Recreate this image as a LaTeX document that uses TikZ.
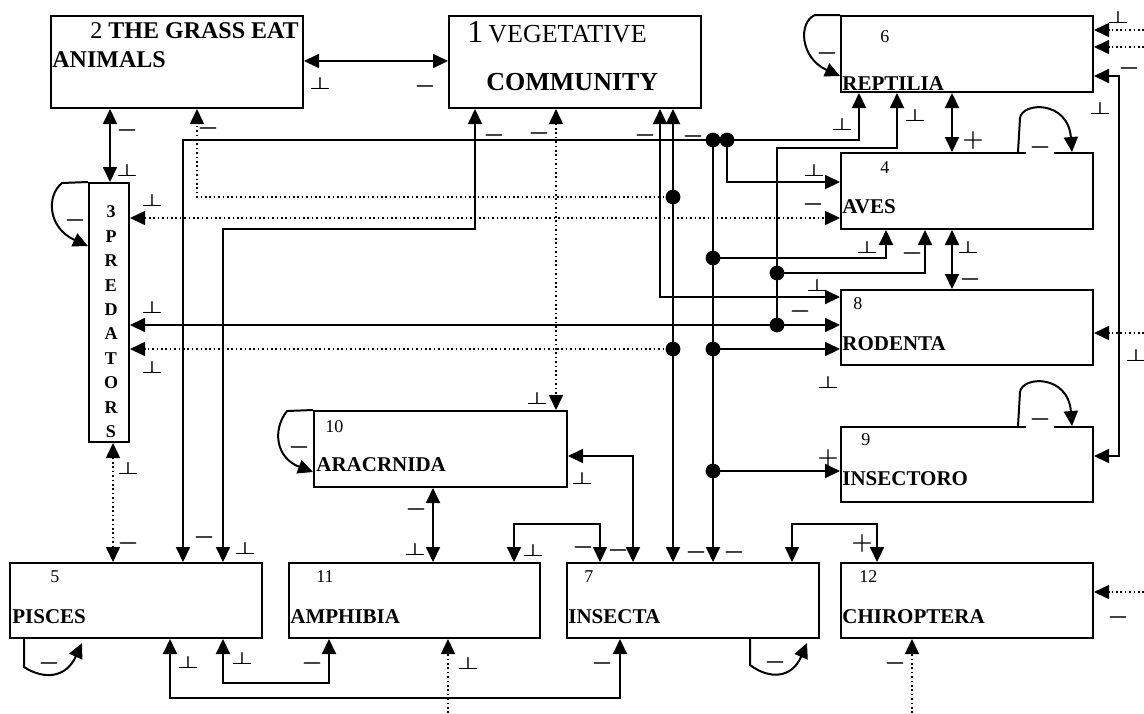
\documentclass[tikz,border=0pt]{standalone}
\usepackage{fontspec}
\setmainfont{Liberation Serif}
\usetikzlibrary{arrows.meta}

\newcommand{\upt}{\scalebox{1}[0.72]{$\perp$}}

\tikzset{
  box/.style={draw, line width=1pt, anchor=north west, inner sep=0pt,
    minimum width=126pt, minimum height=37.5pt},
  lnk/.style={line width=1pt},
  dotline/.style={line width=0.8pt, dash pattern=on 0.8pt off 1.4pt},
  num/.style={anchor=base west, inner sep=0pt, font=\fontsize{9}{9}\selectfont},
  nam/.style={anchor=base west, inner sep=0pt, font=\fontsize{10.5}{10.5}\selectfont\bfseries},
  let/.style={inner sep=0pt, font=\fontsize{9}{9}\selectfont\bfseries},
  sg/.style={inner sep=0pt, font=\fontsize{12}{12}\selectfont\boldmath},
  >={Triangle[length=7.5pt,width=7pt]}
}

\begin{document}
\begin{tikzpicture}[x=0.5pt,y=-0.5pt]
    \useasboundingbox (0,0) rectangle (1144,713);
    \node[box, minimum height=46pt] (b2) at (50,15) {};
    \node[box, minimum height=46pt] (b1) at (448,15) {};
    \node[box, minimum height=38pt] (b6) at (840,15) {};
    \node[box, minimum height=38pt] (b4) at (840,152) {};
    \node[box] (b8) at (840,289) {};
    \node[box] (b9) at (840,426) {};
    \node[box, minimum width=20pt, minimum height=129.5pt] (b3) at (88,182) {};
    \node[box, minimum width=126.5pt, minimum height=38pt] (b10) at (313,410) {};
    \node[box] (b5) at (9,562) {};
    \node[box, minimum width=125.5pt] (b11) at (288,562) {};
    \node[box] (b7) at (566,562) {};
    \node[box] (b12) at (840,562) {};

    \node[anchor=base west, inner sep=0pt, font=\fontsize{12}{12}\selectfont] (t2a) at (90,38) {2 \textbf{THE GRASS EAT}};
    \node[anchor=base west, inner sep=0pt, font=\fontsize{12}{12}\selectfont\bfseries] (t2b) at (52,67) {ANIMALS};
    \node[anchor=base west, inner sep=0pt] (t1a) at (467,42) {{\fontsize{16}{16}\selectfont 1} {\fontsize{13}{13}\selectfont VEGETATIVE}};
    \node[anchor=base west, inner sep=0pt, font=\fontsize{13}{13}\selectfont\bfseries] (t1b) at (486,90) {COMMUNITY};
    \node[num] (t6a) at (880,42) {6};
    \node[nam] (t6b) at (842,90) {REPTILIA};
    \node[num] (t4a) at (880,173) {4};
    \node[nam] (t4b) at (842,213) {AVES};
    \node[num] (t8a) at (853,309) {8};
    \node[nam] (t8b) at (842,350) {RODENTA};
    \node[num] (t9a) at (861,445) {9};
    \node[nam] (t9b) at (842,485) {INSECTORO};
    \node[num] (t10a) at (325,432) {10};
    \node[nam] (t10b) at (316,471) {ARACRNIDA};
    \node[num] (t5a) at (50,582) {5};
    \node[nam] (t5b) at (12,623) {PISCES};
    \node[num] (t11a) at (316,582) {11};
    \node[nam] (t11b) at (290,623) {AMPHIBIA};
    \node[num] (t7a) at (584,582) {7};
    \node[nam] (t7b) at (568,623) {INSECTA};
    \node[num] (t12a) at (859,582) {12};
    \node[nam] (t12b) at (842,623) {CHIROPTERA};

    \node[let] (p0) at (111,212) {3};
    \node[let] (p1) at (111,236.4) {P};
    \node[let] (p2) at (111,260.8) {R};
    \node[let] (p3) at (111,285.2) {E};
    \node[let] (p4) at (111,309.6) {D};
    \node[let] (p5) at (111,334) {A};
    \node[let] (p6) at (111,358.4) {T};
    \node[let] (p7) at (111,382.8) {O};
    \node[let] (p8) at (111,407.2) {R};
    \node[let] (p9) at (111,431.6) {S};

    \coordinate (j1) at (673,197);
    \coordinate (j2) at (713,140);
    \coordinate (j3) at (727,140);
    \coordinate (j4) at (713,258);
    \coordinate (j5) at (713,349);
    \coordinate (j6) at (713,471);
    \coordinate (j7) at (777,325);
    \coordinate (j8) at (777,273);
    \coordinate (j9) at (673,349);
    \coordinate (e1) at (1144,30);
    \coordinate (e2) at (1144,47);
    \coordinate (e3) at (1144,333);
    \coordinate (e4) at (1144,592);
    \coordinate (e5) at (448,713);
    \coordinate (e6) at (912,713);

    \draw[lnk,<->] (b2.east |- 0,61) -- (b1.west |- 0,61);
    \draw[lnk,<->] (110,0 |- b2.south) -- (110,0 |- b3.north);
    \draw[dotline,->] (j1) -| (197,0 |- b2.south);
    \draw[dotline,<->] (b3.east |- 0,218) -- (b4.west |- 0,218);
    \draw[lnk,<->] (183,0 |- b5.north) |- (859,140) -- (859,0 |- b6.south);
    \draw[lnk,<->] (475,0 |- b1.south) |- (223,229) -- (223,0 |- b5.north);
    \draw[dotline,<->] (556,0 |- b1.south) -- (556,0 |- b10.north);
    \draw[lnk,<->] (660,0 |- b1.south) |- (b8.west |- 0,297);
    \draw[lnk,<->] (673,0 |- b1.south) -- (673,0 |- b7.north);
    \draw[lnk,->] (j2) -- (713,0 |- b7.north);
    \draw[lnk,->] (j3) |- (b4.west |- 0,182);
    \draw[lnk,->] (j4) -| (886,0 |- b4.south);
    \draw[lnk,->] (j5) -- (b8.west |- j5);
    \draw[lnk,->] (j6) -- (b9.west |- j6);
    \draw[lnk,->] (j7) |- (897,148) -- (897,0 |- b6.south);
    \draw[lnk,->] (j8) -| (925,0 |- b4.south);
    \draw[lnk,<->] (b3.east |- j7) -- (b8.west |- j7);
    \draw[dotline,->] (j9) -- (b3.east |- j9);
    \draw[lnk,<->] (952,0 |- b6.south) -- (952,0 |- b4.north);
    \draw[lnk,<->] (952,0 |- b4.south) -- (952,0 |- b8.north);
    \draw[lnk,<->] (b6.east |- 0,76) -| (1119,456) -- (b9.east |- 0,456);
    \draw[dotline,->] (e1) -- (b6.east |- e1);
    \draw[dotline,->] (e2) -- (b6.east |- e2);
    \draw[dotline,->] (e3) -- (b8.east |- e3);
    \draw[dotline,->] (e4) -- (b12.east |- e4);
    \draw[dotline,<->] (113,0 |- b3.south) -- (113,0 |- b5.north);
    \draw[lnk,<->] (b10.east |- 0,456) -| (633,0 |- b7.north);
    \draw[lnk,<->] (433,0 |- b10.south) -- (433,0 |- b11.north);
    \draw[lnk,<->] (514,0 |- b11.north) |- (600,524) -- (600,0 |- b7.north);
    \draw[lnk,<->] (792,0 |- b7.north) |- (877,524) -- (877,0 |- b12.north);
    \draw[lnk,<->] (170,0 |- b5.south) |- (620,698) -- (620,0 |- b7.south);
    \draw[lnk,<->] (223,0 |- b5.south) |- (329,683) -- (329,0 |- b11.south);
    \draw[dotline,->] (e5) -- (448,0 |- b11.south);
    \draw[dotline,->] (e6) -- (912,0 |- b12.south);

    \draw[lnk,->] (b6.north west) -- (815,15) .. controls (798,22) and (800,58) .. (b6.west |- 0,76);
    \draw[lnk,->] (1018,0 |- b4.north) -- (1020,118) .. controls (1022,102) and (1068,100) .. (1072,0 |- b4.north);
    \draw[lnk,->] (1018,0 |- b9.north) -- (1020,392) .. controls (1022,376) and (1068,374) .. (1072,0 |- b9.north);
    \draw[lnk,->] (b3.north west) -- (62,183) .. controls (46,196) and (48,228) .. (b3.west |- 0,246);
    \draw[lnk,->] (b10.north west) -- (287,411) .. controls (272,430) and (276,458) .. (b10.west |- 0,472);
    \draw[lnk,->] (24,0 |- b5.south) -- (24,667) .. controls (44,680) and (66,678) .. (82,643);
    \draw[lnk,->] (750,0 |- b7.south) -- (750,665) .. controls (770,680) and (792,678) .. (807,643);

    \fill (j1) circle (3.7pt);
    \fill (j2) circle (3.7pt);
    \fill (j3) circle (3.7pt);
    \fill (j4) circle (3.7pt);
    \fill (j5) circle (3.7pt);
    \fill (j6) circle (3.7pt);
    \fill (j7) circle (3.7pt);
    \fill (j8) circle (3.7pt);
    \fill (j9) circle (3.7pt);

    \draw (320,83) node[sg] (s1) {\upt};
    \draw (425,86) node[sg] (s2) {$-$};
    \draw (127,130) node[sg] (s3) {$-$};
    \draw (127,170) node[sg] (s4) {\upt};
    \draw (208,128) node[sg] (s5) {$-$};
    \draw (152,200) node[sg] (s6) {\upt};
    \draw (75,220) node[sg] (s7) {$-$};
    \draw (152,307) node[sg] (s8) {\upt};
    \draw (152,367) node[sg] (s9) {\upt};
    \draw (128,468) node[sg] (s10) {\upt};
    \draw (128,543) node[sg] (s11) {$-$};
    \draw (204,537) node[sg] (s12) {$-$};
    \draw (245,548) node[sg] (s13) {\upt};
    \draw (49,663) node[sg] (s14) {$-$};
    \draw (188,662) node[sg] (s15) {\upt};
    \draw (242,658) node[sg] (s16) {\upt};
    \draw (312,663) node[sg] (s17) {$-$};
    \draw (299,447) node[sg] (s18) {$-$};
    \draw (494,135) node[sg] (s19) {$-$};
    \draw (539,133) node[sg] (s20) {$-$};
    \draw (645,135) node[sg] (s21) {$-$};
    \draw (693,136) node[sg] (s22) {$-$};
    \draw (537,398) node[sg] (s23) {\upt};
    \draw (582,478) node[sg] (s24) {\upt};
    \draw (416,509) node[sg] (s25) {$-$};
    \draw (415,549) node[sg] (s26) {\upt};
    \draw (533,550) node[sg] (s27) {\upt};
    \draw (583,547) node[sg] (s28) {$-$};
    \draw (618,550) node[sg] (s29) {$-$};
    \draw (696,552) node[sg] (s30) {$-$};
    \draw (734,552) node[sg] (s31) {$-$};
    \draw (862,543) node[sg] (s32) {$+$};
    \draw (775,662) node[sg] (s33) {$-$};
    \draw (468,663) node[sg] (s34) {\upt};
    \draw (602,663) node[sg] (s35) {$-$};
    \draw (895,663) node[sg] (s36) {$-$};
    \draw (1118,617) node[sg] (s37) {$-$};
    \draw (827,53) node[sg] (s38) {$-$};
    \draw (1118,17) node[sg] (s39) {\upt};
    \draw (1129,68) node[sg] (s40) {$-$};
    \draw (1100,108) node[sg] (s41) {\upt};
    \draw (842,124) node[sg] (s42) {\upt};
    \draw (915,115) node[sg] (s43) {\upt};
    \draw (973,140) node[sg] (s44) {$+$};
    \draw (1040,147) node[sg, fill=white, inner sep=1.5pt] (s45) {$-$};
    \draw (814,170) node[sg] (s46) {\upt};
    \draw (813,204) node[sg] (s47) {$-$};
    \draw (867,247) node[sg] (s48) {\upt};
    \draw (912,253) node[sg] (s49) {$-$};
    \draw (968,247) node[sg] (s50) {\upt};
    \draw (970,279) node[sg] (s51) {$-$};
    \draw (817,285) node[sg] (s52) {\upt};
    \draw (800,311) node[sg] (s53) {$-$};
    \draw (828,382) node[sg] (s54) {\upt};
    \draw (1136,355) node[sg] (s55) {\upt};
    \draw (1040,419) node[sg, fill=white, inner sep=1.5pt] (s56) {$-$};
    \draw (828,458) node[sg] (s57) {$+$};
  \end{tikzpicture}
\end{document}
